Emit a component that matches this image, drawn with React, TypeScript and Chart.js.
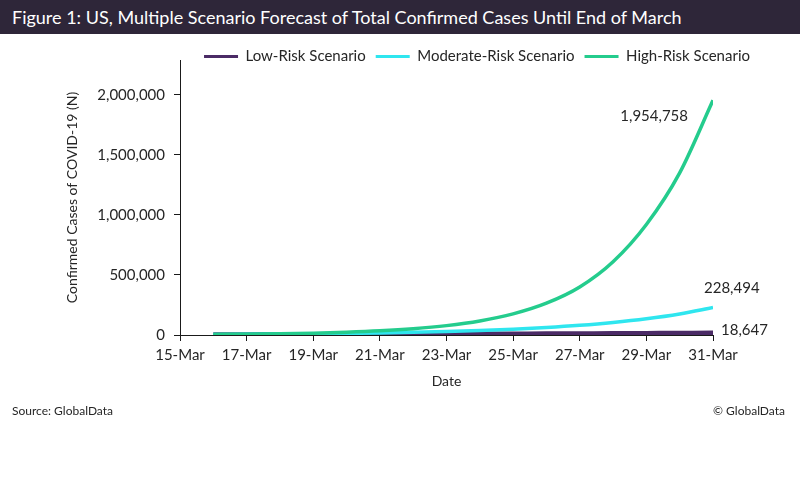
import React, { useEffect, useRef } from 'react';
import { Chart, registerables } from 'chart.js';

Chart.register(...registerables);

// ---- data ----
const dates = ['15-Mar', '16-Mar', '17-Mar', '18-Mar', '19-Mar', '20-Mar', '21-Mar', '22-Mar', '23-Mar', '24-Mar', '25-Mar', '26-Mar', '27-Mar', '28-Mar', '29-Mar', '30-Mar', '31-Mar'];
const lowRisk = [null, 4600, 5050, 5540, 6090, 6680, 7340, 8050, 8840, 9710, 10660, 11700, 12850, 14110, 15490, 17000, 18647];
const moderateRisk = [null, 4600, 5970, 7740, 10040, 13020, 16890, 21910, 28420, 36860, 47810, 62010, 80430, 104330, 135320, 175520, 228494];
const highRisk = [null, 4600, 6800, 10200, 15300, 23000, 34500, 52000, 78000, 117000, 176000, 265000, 400000, 610000, 920000, 1350000, 1954758];
const seriesNames = ['Low-Risk Scenario', 'Moderate-Risk Scenario', 'High-Risk Scenario'];
const yTickValues = [0, 500000, 1000000, 1500000, 2000000];

const titleText = 'Figure 1: US, Multiple Scenario Forecast of Total Confirmed Cases Until End of March';
const yAxisTitle = 'Confirmed Cases of COVID-19 (N)';
const xAxisTitle = 'Date';
const sourceText = 'Source: GlobalData';
const copyrightText = '\u00A9 GlobalData';

const FONT = 'Lato, "Noto Sans", sans-serif';
const TEXT = '#262626';
const AXIS = '#1a1a1a';
const colors = ['#4b2b66', '#2fe6ef', '#24cc8d'];

const toPoints = (arr: (number | null)[]) =>
  arr.map((v, i) => ({ x: i, y: v })).filter((p) => p.y !== null);

const legendPlace = {
  id: 'legendPlace',
  afterLayout(chart: any) {
    const l = chart.legend;
    if (!l) return;
    const dx = 47;
    const dy = 14;
    l.left += dx;
    l.right += dx;
    l.top += dy;
    l.bottom += dy;
  },
};

const endLabels = {
  id: 'endLabels',
  afterDatasetsDraw(chart: any) {
    const ctx = chart.ctx;
    const offs = [
      { dx: 8, dy: -3, align: 'left' },
      { dx: -9, dy: -19, align: 'left' },
      { dx: -25, dy: 16, align: 'right' },
    ];
    ctx.save();
    ctx.font = `15px ${FONT}`;
    ctx.fillStyle = TEXT;
    ctx.textBaseline = 'middle';
    chart.data.datasets.forEach((ds: any, i: number) => {
      const meta = chart.getDatasetMeta(i);
      const pt = meta.data[meta.data.length - 1];
      const v = ds.data[ds.data.length - 1].y;
      const o = offs[i];
      ctx.textAlign = o.align;
      ctx.fillText(v.toLocaleString('en-US'), pt.x + o.dx, pt.y + o.dy);
    });
    ctx.restore();
  },
};

export default function App() {
  const ref = useRef<HTMLCanvasElement>(null);

  useEffect(() => {
    if (!ref.current) return;
    const series = [lowRisk, moderateRisk, highRisk];
    const chart = new Chart(ref.current, {
      type: 'line',
      data: {
        datasets: series.map((s, i) => ({
          label: seriesNames[i],
          data: toPoints(s),
          borderColor: colors[i],
          backgroundColor: colors[i],
          borderWidth: i === 0 ? 4.5 : 3.5,
          pointRadius: 0,
          cubicInterpolationMode: 'monotone',
          order: 2 - i,
        })),
      },
      options: {
        responsive: false,
        animation: false,
        layout: { padding: { left: 60, right: 87, top: 25, bottom: 105 } },
        plugins: {
          tooltip: { enabled: false },
          legend: {
            position: 'top',
            align: 'end',
            labels: {
              boxWidth: 34,
              boxHeight: 3,
              padding: 10,
              color: TEXT,
              font: { family: FONT, size: 15 },
              sort: (a: any, b: any) => a.datasetIndex - b.datasetIndex,
              generateLabels: (chart: any) =>
                chart.data.datasets.map((ds: any, i: number) => ({
                  text: ds.label,
                  fillStyle: ds.borderColor,
                  strokeStyle: ds.borderColor,
                  lineWidth: 0,
                  hidden: false,
                  datasetIndex: i,
                  fontColor: TEXT,
                })),
            },
          },
        },
        scales: {
          x: {
            type: 'linear',
            min: 0,
            max: dates.length - 1,
            afterFit: (s: any) => {
              s.height = 60;
            },
            border: { display: true, color: AXIS, width: 1 },
            grid: { display: true, drawOnChartArea: false, drawTicks: true, tickLength: 6, color: AXIS },
            ticks: {
              stepSize: 2,
              padding: 5,
              color: TEXT,
              maxRotation: 0,
              font: { family: FONT, size: 15 },
              callback: (v: any) => dates[v] ?? '',
            },
            title: {
              display: true,
              text: xAxisTitle,
              color: TEXT,
              font: { family: FONT, size: 14 },
              padding: { top: 4, bottom: 5 },
            },
          },
          y: {
            type: 'linear',
            min: 0,
            max: 2290000,
            afterFit: (s: any) => {
              s.width = 120;
            },
            afterBuildTicks: (s: any) => {
              s.ticks = yTickValues.map((v) => ({ value: v }));
            },
            border: { display: true, color: AXIS, width: 1 },
            grid: { display: true, drawOnChartArea: false, drawTicks: true, tickLength: 6, color: AXIS },
            ticks: {
              padding: 9,
              color: TEXT,
              font: { family: FONT, size: 15 },
              callback: (v: any) => Number(v).toLocaleString('en-US'),
            },
            title: {
              display: true,
              text: yAxisTitle,
              color: TEXT,
              font: { family: FONT, size: 14 },
              padding: { top: 4, bottom: 4 },
            },
          },
        },
      },
      plugins: [legendPlace, endLabels],
    } as any);
    return () => chart.destroy();
  }, []);

  return (
    <div style={{ position: 'absolute', left: 0, top: 0, width: 800, height: 500, background: '#fff', overflow: 'hidden' }}>
      <canvas ref={ref} width={800} height={500} style={{ position: 'absolute', left: 0, top: 0 }} />
      <div
        style={{
          position: 'absolute',
          left: 0,
          top: 0,
          width: 800,
          height: 34,
          background: '#2e2639',
          color: '#fff',
          fontFamily: FONT,
          fontSize: 18,
          lineHeight: '34px',
          paddingLeft: 12,
          boxSizing: 'border-box',
          whiteSpace: 'nowrap',
        }}
      >
        {titleText}
      </div>
      <div style={{ position: 'absolute', left: 12, top: 403, fontFamily: FONT, fontSize: 12, color: TEXT, lineHeight: '16px' }}>
        {sourceText}
      </div>
      <div style={{ position: 'absolute', right: 15, top: 403, fontFamily: FONT, fontSize: 12, color: TEXT, lineHeight: '16px' }}>
        {copyrightText}
      </div>
    </div>
  );
}
